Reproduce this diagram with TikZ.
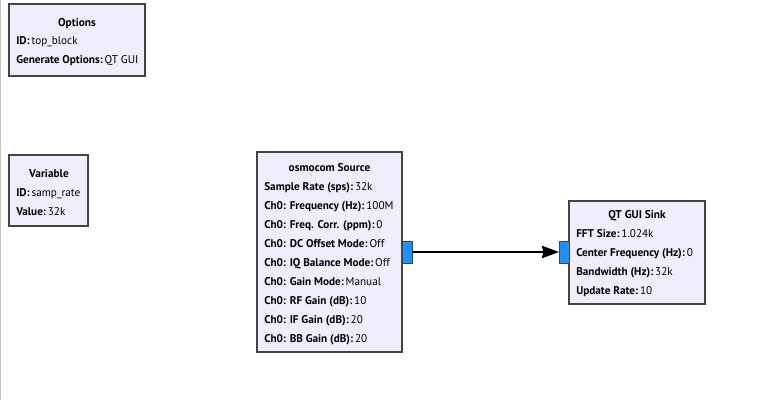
\documentclass[tikz,border=0pt]{standalone}
\usepackage{fontspec}
\setmainfont{PT Sans}
\usetikzlibrary{arrows.meta}
\definecolor{blockfill}{RGB}{240,238,253}
\definecolor{blockline}{RGB}{68,68,68}
\definecolor{portfill}{RGB}{30,144,255}
\definecolor{edgegray}{RGB}{200,196,188}
\tikzset{
  blk/.style={draw=blockline, fill=blockfill, line width=0.9pt},
  port/.style={draw=blockline, fill=portfill, line width=0.75pt},
  ttl/.style={anchor=base, inner sep=0pt, font=\fontsize{8.5}{10}\selectfont\bfseries},
  prm/.style={anchor=base west, inner sep=0pt, font=\fontsize{8.4}{10}\selectfont},
  conn/.style={line width=0.9pt, -{Stealth[length=13pt,width=9.5pt,inset=1.5pt]}}
}
\newcommand{\kv}[2]{\textbf{#1}\,#2}
\begin{document}
\begin{tikzpicture}[x=0.75pt,y=-0.75pt]
\useasboundingbox (0,0) rectangle (758,400);
\fill[white] (0,0) rectangle (758,400);
\draw[edgegray, line width=0.9pt] (0.5,0) -- (0.5,400);

% Options
\draw[blk] (9,4) rectangle (145,76);
\node[ttl] (optT) at (77,26) {Options};
\node[prm] (opt1) at (16,44.5) {\kv{ID:}{top\_block}};
\node[prm] (opt2) at (16,63) {\kv{Generate Options:}{QT GUI}};

% Variable
\draw[blk] (9,155) rectangle (88,226);
\node[ttl] (varT) at (49,177) {Variable};
\node[prm] (var1) at (16,196) {\kv{ID:}{samp\_rate}};
\node[prm] (var2) at (16,215) {\kv{Value:}{32k}};

% osmocom Source
\draw[blk] (257,152) rectangle (402,352);
\node[ttl] (srcT) at (329.5,171) {osmocom Source};
\node[prm] (s1) at (264,190) {\kv{Sample Rate (sps):}{32k}};
\node[prm] (s2) at (264,209) {\kv{Ch0: Frequency (Hz):}{100M}};
\node[prm] (s3) at (264,228) {\kv{Ch0: Freq. Corr. (ppm):}{0}};
\node[prm] (s4) at (264,247) {\kv{Ch0: DC Offset Mode:}{Off}};
\node[prm] (s5) at (264,266) {\kv{Ch0: IQ Balance Mode:}{Off}};
\node[prm] (s6) at (264,285) {\kv{Ch0: Gain Mode:}{Manual}};
\node[prm] (s7) at (264,304) {\kv{Ch0: RF Gain (dB):}{10}};
\node[prm] (s8) at (264,323) {\kv{Ch0: IF Gain (dB):}{20}};
\node[prm] (s9) at (264,342) {\kv{Ch0: BB Gain (dB):}{20}};

% QT GUI Sink
\draw[blk] (569,201) rectangle (705,304);
\node[ttl] (snkT) at (637,218) {QT GUI Sink};
\node[prm] (k1) at (576,237) {\kv{FFT Size:}{1.024k}};
\node[prm] (k2) at (576,256) {\kv{Center Frequency (Hz):}{0}};
\node[prm] (k3) at (576,275) {\kv{Bandwidth (Hz):}{32k}};
\node[prm] (k4) at (576,294) {\kv{Update Rate:}{10}};

% ports
\draw[port] (402,241) rectangle (412,263);
\draw[port] (559,241) rectangle (569,263);
\coordinate (outp) at (412,252);
\coordinate (inp) at (559,252);
\draw[conn] (outp) -- (inp);
\end{tikzpicture}
\end{document}
